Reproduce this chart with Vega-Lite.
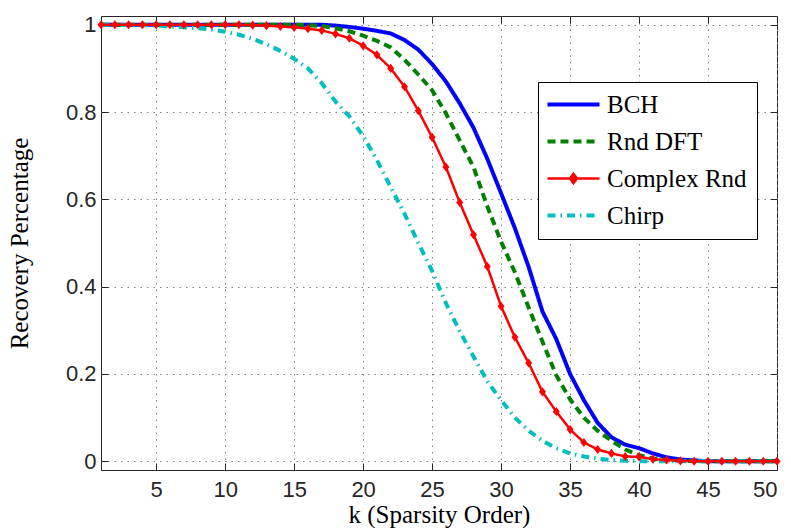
{
  "$schema": "https://vega.github.io/schema/vega-lite/v6.json",
  "width": 676,
  "height": 454,
  "autosize": "none",
  "padding": {"left": 101, "top": 16, "right": 14, "bottom": 58},
  "background": "white",
  "data": {
    "values": [
      {"k": 1, "BCH": 1, "Rnd DFT": 1, "Complex Rnd": 1, "Chirp": 1},
      {"k": 2, "BCH": 1, "Rnd DFT": 1, "Complex Rnd": 1, "Chirp": 1},
      {"k": 3, "BCH": 1, "Rnd DFT": 1, "Complex Rnd": 1, "Chirp": 0.999},
      {"k": 4, "BCH": 1, "Rnd DFT": 1, "Complex Rnd": 1, "Chirp": 0.999},
      {"k": 5, "BCH": 1, "Rnd DFT": 1, "Complex Rnd": 1, "Chirp": 0.998},
      {"k": 6, "BCH": 1, "Rnd DFT": 1, "Complex Rnd": 1, "Chirp": 0.996},
      {"k": 7, "BCH": 1, "Rnd DFT": 1, "Complex Rnd": 1, "Chirp": 0.994},
      {"k": 8, "BCH": 1, "Rnd DFT": 1, "Complex Rnd": 1, "Chirp": 0.992},
      {"k": 9, "BCH": 1, "Rnd DFT": 1, "Complex Rnd": 1, "Chirp": 0.989},
      {"k": 10, "BCH": 1, "Rnd DFT": 1, "Complex Rnd": 1, "Chirp": 0.984},
      {"k": 11, "BCH": 1, "Rnd DFT": 1, "Complex Rnd": 1, "Chirp": 0.977},
      {"k": 12, "BCH": 1, "Rnd DFT": 1, "Complex Rnd": 0.999, "Chirp": 0.968},
      {"k": 13, "BCH": 1, "Rnd DFT": 1, "Complex Rnd": 0.998, "Chirp": 0.955},
      {"k": 14, "BCH": 1, "Rnd DFT": 1, "Complex Rnd": 0.996, "Chirp": 0.94},
      {"k": 15, "BCH": 1, "Rnd DFT": 1, "Complex Rnd": 0.994, "Chirp": 0.922},
      {"k": 16, "BCH": 1, "Rnd DFT": 0.999, "Complex Rnd": 0.991, "Chirp": 0.9},
      {"k": 17, "BCH": 1, "Rnd DFT": 0.997, "Complex Rnd": 0.987, "Chirp": 0.866},
      {"k": 18, "BCH": 0.998, "Rnd DFT": 0.992, "Complex Rnd": 0.979, "Chirp": 0.824},
      {"k": 19, "BCH": 0.995, "Rnd DFT": 0.985, "Complex Rnd": 0.969, "Chirp": 0.79},
      {"k": 20, "BCH": 0.991, "Rnd DFT": 0.975, "Complex Rnd": 0.952, "Chirp": 0.745},
      {"k": 21, "BCH": 0.986, "Rnd DFT": 0.963, "Complex Rnd": 0.931, "Chirp": 0.69},
      {"k": 22, "BCH": 0.98, "Rnd DFT": 0.948, "Complex Rnd": 0.9, "Chirp": 0.628},
      {"k": 23, "BCH": 0.965, "Rnd DFT": 0.92, "Complex Rnd": 0.858, "Chirp": 0.567},
      {"k": 24, "BCH": 0.943, "Rnd DFT": 0.886, "Complex Rnd": 0.803, "Chirp": 0.5},
      {"k": 25, "BCH": 0.91, "Rnd DFT": 0.85, "Complex Rnd": 0.742, "Chirp": 0.436},
      {"k": 26, "BCH": 0.87, "Rnd DFT": 0.797, "Complex Rnd": 0.674, "Chirp": 0.362},
      {"k": 27, "BCH": 0.82, "Rnd DFT": 0.735, "Complex Rnd": 0.593, "Chirp": 0.298},
      {"k": 28, "BCH": 0.764, "Rnd DFT": 0.674, "Complex Rnd": 0.519, "Chirp": 0.24},
      {"k": 29, "BCH": 0.693, "Rnd DFT": 0.584, "Complex Rnd": 0.446, "Chirp": 0.183},
      {"k": 30, "BCH": 0.614, "Rnd DFT": 0.503, "Complex Rnd": 0.355, "Chirp": 0.14},
      {"k": 31, "BCH": 0.534, "Rnd DFT": 0.433, "Complex Rnd": 0.284, "Chirp": 0.1},
      {"k": 32, "BCH": 0.445, "Rnd DFT": 0.352, "Complex Rnd": 0.225, "Chirp": 0.07},
      {"k": 33, "BCH": 0.343, "Rnd DFT": 0.274, "Complex Rnd": 0.159, "Chirp": 0.047},
      {"k": 34, "BCH": 0.28, "Rnd DFT": 0.197, "Complex Rnd": 0.114, "Chirp": 0.03},
      {"k": 35, "BCH": 0.2, "Rnd DFT": 0.142, "Complex Rnd": 0.073, "Chirp": 0.018},
      {"k": 36, "BCH": 0.14, "Rnd DFT": 0.1, "Complex Rnd": 0.043, "Chirp": 0.011},
      {"k": 37, "BCH": 0.088, "Rnd DFT": 0.07, "Complex Rnd": 0.027, "Chirp": 0.006},
      {"k": 38, "BCH": 0.055, "Rnd DFT": 0.047, "Complex Rnd": 0.018, "Chirp": 0.003},
      {"k": 39, "BCH": 0.038, "Rnd DFT": 0.027, "Complex Rnd": 0.011, "Chirp": 0.001},
      {"k": 40, "BCH": 0.03, "Rnd DFT": 0.014, "Complex Rnd": 0.01, "Chirp": 0},
      {"k": 41, "BCH": 0.018, "Rnd DFT": 0.006, "Complex Rnd": 0.005, "Chirp": 0},
      {"k": 42, "BCH": 0.009, "Rnd DFT": 0.003, "Complex Rnd": 0.003, "Chirp": 0},
      {"k": 43, "BCH": 0.004, "Rnd DFT": 0.001, "Complex Rnd": 0.001, "Chirp": 0},
      {"k": 44, "BCH": 0.002, "Rnd DFT": 0, "Complex Rnd": 0, "Chirp": 0},
      {"k": 45, "BCH": 0, "Rnd DFT": 0, "Complex Rnd": 0, "Chirp": 0},
      {"k": 46, "BCH": 0, "Rnd DFT": 0, "Complex Rnd": 0, "Chirp": 0},
      {"k": 47, "BCH": 0, "Rnd DFT": 0, "Complex Rnd": 0, "Chirp": 0},
      {"k": 48, "BCH": 0, "Rnd DFT": 0, "Complex Rnd": 0, "Chirp": 0},
      {"k": 49, "BCH": 0, "Rnd DFT": 0, "Complex Rnd": 0, "Chirp": 0},
      {"k": 50, "BCH": 0, "Rnd DFT": 0, "Complex Rnd": 0, "Chirp": 0}
    ]
  },
  "transform": [
    {"fold": ["BCH", "Rnd DFT", "Complex Rnd", "Chirp"], "as": ["s", "v"]}
  ],
  "resolve": {"axis": {"x": "independent", "y": "independent"}},
  "layer": [
    {
      "transform": [{"filter": "datum.s !== 'Complex Rnd'"}],
      "mark": {"type": "line", "strokeWidth": 4, "strokeJoin": "round", "clip": true},
      "encoding": {
        "x": {
          "field": "k", "type": "quantitative",
          "scale": {"domain": [1, 50], "nice": false, "zero": false},
          "axis": {"orient": "bottom", "values": [5, 10, 15, 20, 25, 30, 35, 40, 45, 50], "title": "k (Sparsity Order)", "titlePadding": 2, "labelPadding": 16}
        },
        "y": {
          "field": "v", "type": "quantitative",
          "scale": {"domain": [-0.02, 1.02], "nice": false, "zero": false},
          "axis": {"orient": "left", "values": [0, 0.2, 0.4, 0.6, 0.8, 1], "format": "~g", "title": "Recovery Percentage", "titlePadding": 33, "labelPadding": 12}
        },
        "color": {
          "field": "s", "type": "nominal",
          "scale": {"domain": ["BCH", "Rnd DFT", "Complex Rnd", "Chirp"], "range": ["#0000ff", "#008000", "#ff0000", "#00bfbf"]},
          "legend": {
            "orient": "none", "legendX": 437, "legendY": 66, "title": null,
            "symbolSize": 676, "symbolStrokeWidth": 4,
            "labelFont": "Liberation Serif", "labelFontSize": 25, "labelColor": "#000",
            "padding": 10, "rowPadding": 11, "labelOffset": 34,
            "strokeColor": "#000", "fillColor": "#fff",
            "encode": {
              "symbols": {
                "update": {
                  "shape": {"signal": "datum.value === 'Complex Rnd' ? 'M-1,0L3,0M1,-0.36L1.27,0L1,0.36L0.73,0Z' : 'M-1,0L3,0'"},
                  "strokeWidth": {"signal": "datum.value === 'Complex Rnd' ? 2.5 : 4"},
                  "fill": {"signal": "datum.value === 'Complex Rnd' ? '#ff0000' : 'transparent'"}
                }
              }
            }
          }
        },
        "strokeDash": {
          "field": "s", "type": "nominal",
          "scale": {"domain": ["BCH", "Rnd DFT", "Complex Rnd", "Chirp"], "range": [[1, 0], [8, 5], [1, 0], [8, 5, 1.5, 5]]}
        }
      }
    },
    {
      "transform": [{"filter": "datum.s === 'Complex Rnd'"}],
      "mark": {"type": "line", "strokeWidth": 2.5, "strokeJoin": "round", "clip": true},
      "encoding": {
        "x": {"field": "k", "type": "quantitative", "axis": null},
        "y": {"field": "v", "type": "quantitative", "axis": null},
        "color": {"field": "s", "type": "nominal"},
        "strokeDash": {"field": "s", "type": "nominal"}
      }
    },
    {
      "transform": [{"filter": "datum.s === 'Complex Rnd'"}],
      "mark": {"type": "point", "filled": true, "shape": "M0,-1.3L1,0L0,1.3L-1,0Z", "size": 49, "color": "#ff0000", "opacity": 1, "clip": false},
      "encoding": {
        "x": {"field": "k", "type": "quantitative", "axis": {"orient": "top", "labels": false, "grid": false, "title": null, "values": [5, 10, 15, 20, 25, 30, 35, 40, 45, 50]}},
        "y": {"field": "v", "type": "quantitative", "axis": {"orient": "right", "labels": false, "grid": false, "title": null, "values": [0, 0.2, 0.4, 0.6, 0.8, 1]}}
      }
    }
  ],
  "config": {
    "view": {"stroke": "#262626", "strokeWidth": 1},
    "axis": {
      "domain": false, "grid": true, "gridColor": "#808080", "gridDash": [1.5, 5], "gridWidth": 1,
      "tickColor": "#262626", "tickSize": -7, "tickWidth": 1,
      "labelFont": "Liberation Sans", "labelFontSize": 22, "labelColor": "#262626",
      "titleFont": "Liberation Serif", "titleFontSize": 25, "titleFontWeight": "normal", "titleColor": "#000"
    }
  }
}
